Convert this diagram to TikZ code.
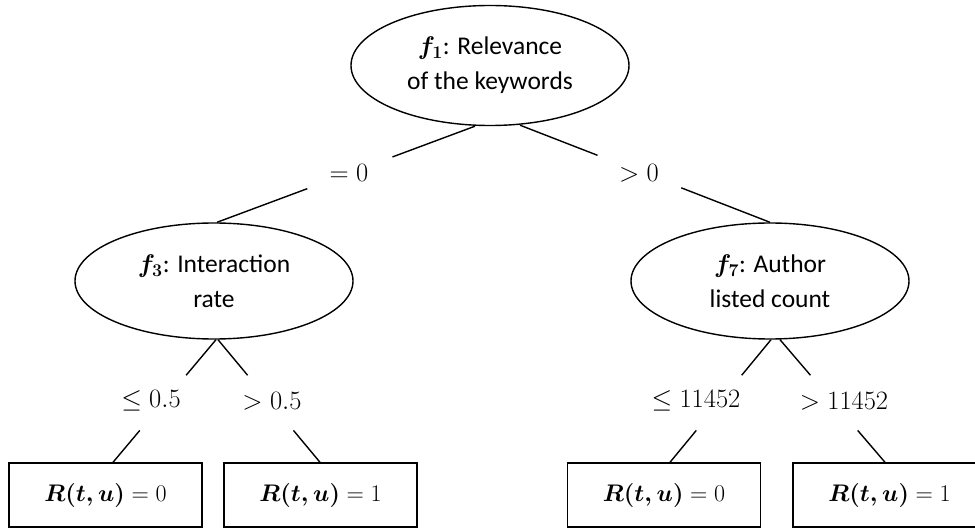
\RequirePackage{fix-cm}
\documentclass[tikz,border=0pt]{standalone}
\usepackage{amsmath,amsbsy}
\usepackage[no-math]{fontspec}
\setmainfont{Carlito}
\usetikzlibrary{shapes.geometric,calc}
\begin{document}
\begin{tikzpicture}[x=1pt,y=-1pt,
  feat/.style={ellipse,draw,line width=1.4pt,minimum width=278pt,minimum height=116pt,inner sep=0pt,align=center,font=\fontsize{25.5}{35}\selectfont},
  leaf/.style={rectangle,draw,line width=1.4pt,minimum width=193pt,minimum height=64pt,inner sep=0pt,font=\fontsize{24}{30}\selectfont},
  cond/.style={inner sep=0pt,font=\fontsize{26.5}{30}\selectfont},
  conn/.style={line width=1.4pt}]
\clip (0,0) rectangle (975,529);
% feature nodes
\node[feat,minimum height=120pt] (f1) at (490,65.5) {$\boldsymbol{f_1}$: Relevance\\of the keywords};
\node[feat] (f3) at (214,281) {$\boldsymbol{f_3}$: Interaction\\rate};
\node[feat] (f7) at (770,281) {$\boldsymbol{f_7}$: Author\\listed count};
% leaves
\node[leaf] (l1) at (105.5,495) {$\boldsymbol{R(t,u)}=0$};
\node[leaf] (l2) at (320.5,495) {$\boldsymbol{R(t,u)}=1$};
\node[leaf] (l3) at (664,495) {$\boldsymbol{R(t,u)}=0$};
\node[leaf] (l4) at (889.5,495) {$\boldsymbol{R(t,u)}=1$};
% condition labels
\node[cond] (c1) at (349,173) {$=0$};
\node[cond] (c2) at (639,173) {$>0$};
\node[cond] (c3) at (151,401) {$\leq 0.5$};
\node[cond] (c4) at (272,401) {$>0.5$};
\node[cond] (c5) at (696,401) {$\leq 11452$};
\node[cond] (c6) at (844,401) {$>11452$};
% connector end points
\coordinate (a1) at ($(f1.south)+(-15,0)$);
\coordinate (a2) at ($(f1.south)+(30,-1)$);
\coordinate (b1) at ($(f3.north)+(3,0)$);
\coordinate (b2) at (f7.north);
\coordinate (p3) at ($(f3.south)+(2,0)$);
\coordinate (p4) at ($(f3.south)+(4,0)$);
\coordinate (p5) at ($(f7.south)+(1,0)$);
\coordinate (p6) at ($(f7.south)+(10,0)$);
\coordinate (q1) at ($(l1.north)+(7.5,0)$);
\coordinate (q2) at ($(l2.north)+(-0.5,0)$);
\coordinate (q3) at ($(l3.north)+(6,0)$);
\coordinate (q4) at ($(l4.north)+(-4.5,0)$);
% connectors, broken around their labels
\draw[conn] (a1) -- ($(a1)!0.32!(b1)$) ($(a1)!0.65!(b1)$) -- (b1);
\draw[conn] (a2) -- ($(a2)!0.31!(b2)$) ($(a2)!0.645!(b2)$) -- (b2);
\draw[conn] (p3) -- ($(p3)!0.29!(q1)$) ($(p3)!0.74!(q1)$) -- (q1);
\draw[conn] (p4) -- ($(p4)!0.29!(q2)$) ($(p4)!0.74!(q2)$) -- (q2);
\draw[conn] (p5) -- ($(p5)!0.29!(q3)$) ($(p5)!0.74!(q3)$) -- (q3);
\draw[conn] (p6) -- ($(p6)!0.29!(q4)$) ($(p6)!0.74!(q4)$) -- (q4);
\end{tikzpicture}
\end{document}
